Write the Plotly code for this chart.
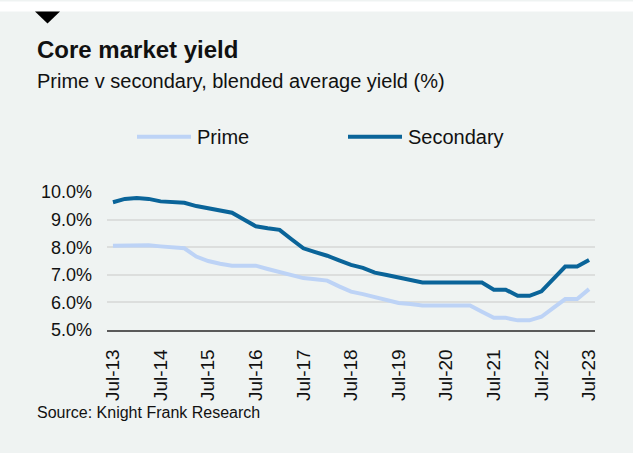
import plotly.graph_objects as go

# ---- data ----
months = ["Jul", "Oct", "Jan", "Apr"]
quarters = []
yr = 13
for i in range(41):
    m = months[i % 4]
    if m == "Jan":
        yr += 1
    quarters.append(f"{m}-{yr:02d}")

prime = [8.05, 8.05, 8.08, 8.07, 8.03, 8.00, 7.96, 7.66, 7.50, 7.40, 7.33,
         7.33, 7.33, 7.21, 7.09, 6.99, 6.88, 6.84, 6.79, 6.58, 6.39, 6.30,
         6.19, 6.09, 5.98, 5.94, 5.89, 5.89, 5.89, 5.89, 5.89, 5.66, 5.44,
         5.44, 5.35, 5.35, 5.48, 5.80, 6.12, 6.12, 6.48]
secondary = [9.63, 9.75, 9.78, 9.75, 9.66, 9.63, 9.61, 9.49, 9.42, 9.34, 9.25,
             9.00, 8.76, 8.69, 8.63, 8.29, 7.96, 7.82, 7.69, 7.52, 7.36, 7.25,
             7.08, 6.99, 6.90, 6.81, 6.72, 6.72, 6.72, 6.72, 6.72, 6.72, 6.46,
             6.46, 6.24, 6.24, 6.40, 6.85, 7.30, 7.30, 7.54]
tick_labels = [q for q in quarters if q.startswith("Jul")]
y_ticks = [5, 6, 7, 8, 9, 10]
y_tick_text = [f"{v:.1f}%" for v in y_ticks]

series_names = ["Prime", "Secondary"]
series_colors = ["#bdd3f6", "#0a6499"]

# ---- geometry (pixels) ----
W, H = 633, 453
L, R, T, B = 107, 38, 191.5, 122.7
pw, ph = W - L - R, H - T - B

def px(x):
    return (x - L) / pw

def py(y):
    return 1 - (y - T) / ph

BG = "#eff3f2"
FONT = "Liberation Sans, Arial, sans-serif"

fig = go.Figure()
for name, vals, col in zip(series_names, [prime, secondary], series_colors):
    fig.add_trace(go.Scatter(x=quarters, y=vals, mode="lines", name=name,
                             line=dict(color=col, width=4), showlegend=False))

shapes = [
    # white band at top
    dict(type="rect", xref="paper", yref="paper", x0=px(0), x1=px(W),
         y0=py(0), y1=py(10), fillcolor="white", line=dict(width=0), layer="above"),
    # black triangle marker
    dict(type="path", xref="paper", yref="paper",
         path=f"M{px(35)},{py(10)} L{px(60)},{py(10)} L{px(47.5)},{py(22)} Z",
         fillcolor="black", line=dict(width=0)),
]
annotations = [
    dict(text="<b>Core market yield</b>", x=px(35), y=py(48), xref="paper", yref="paper",
         xanchor="left", yanchor="middle", showarrow=False,
         font=dict(family=FONT, size=24, color="#111")),
    dict(text="Prime v secondary, blended average yield (%)", x=px(35), y=py(80),
         xref="paper", yref="paper", xanchor="left", yanchor="middle", showarrow=False,
         font=dict(family=FONT, size=20, color="#111")),
    dict(text="Source: Knight Frank Research", x=px(35), y=py(413),
         xref="paper", yref="paper", xanchor="left", yanchor="middle", showarrow=False,
         font=dict(family=FONT, size=16, color="#111")),
]
# manual legend
leg_x = [(137, 191), (348, 402)]
for (x0, x1), name, col in zip(leg_x, series_names, series_colors):
    shapes.append(dict(type="line", xref="paper", yref="paper", x0=px(x0), x1=px(x1),
                       y0=py(136), y1=py(136), line=dict(color=col, width=4)))
    annotations.append(dict(text=name, x=px(x1 + 4), y=py(136), xref="paper", yref="paper",
                            xanchor="left", yanchor="middle", showarrow=False,
                            font=dict(family=FONT, size=20, color="#111")))

fig.update_layout(
    width=W, height=H,
    margin=dict(l=L, r=R, t=T, b=B, pad=0),
    paper_bgcolor=BG, plot_bgcolor=BG,
    shapes=shapes, annotations=annotations,
    xaxis=dict(type="category", range=[-0.5, len(quarters) - 0.5],
               tickmode="array", tickvals=tick_labels, ticktext=tick_labels,
               tickangle=-90, showgrid=False, zeroline=False,
               showline=True, linecolor="#5a5a5a", linewidth=1.5,
               ticks="", ticklabelstandoff=10,
               tickfont=dict(family=FONT, size=19, color="#111")),
    yaxis=dict(range=[5, 10], tickmode="array", tickvals=y_ticks, ticktext=y_tick_text,
               showgrid=True, gridcolor="#dcdedd", gridwidth=1.5, zeroline=False,
               showline=False, ticks="", ticklabelstandoff=14,
               tickfont=dict(family=FONT, size=18, color="#111")),
)
fig.write_html("out.html", config={"displayModeBar": False},
               post_script="document.body.style.margin='0';")
